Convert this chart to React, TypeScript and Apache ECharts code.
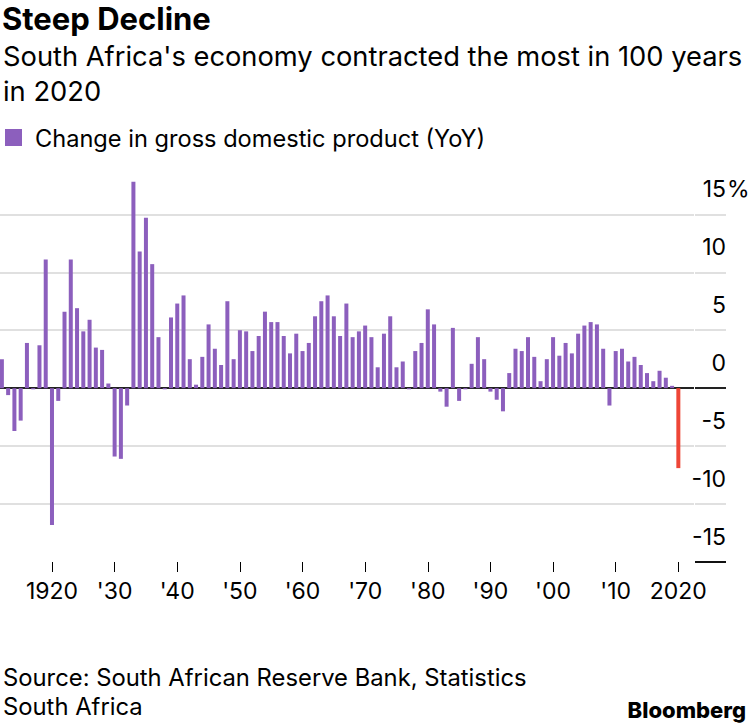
import React, { useEffect, useRef } from "react";
import * as echarts from "echarts";

const years = [
  1912, 1913, 1914, 1915, 1916, 1917, 1918, 1919, 1920, 1921,
  1922, 1923, 1924, 1925, 1926, 1927, 1928, 1929, 1930, 1931,
  1932, 1933, 1934, 1935, 1936, 1937, 1938, 1939, 1940, 1941,
  1942, 1943, 1944, 1945, 1946, 1947, 1948, 1949, 1950, 1951,
  1952, 1953, 1954, 1955, 1956, 1957, 1958, 1959, 1960, 1961,
  1962, 1963, 1964, 1965, 1966, 1967, 1968, 1969, 1970, 1971,
  1972, 1973, 1974, 1975, 1976, 1977, 1978, 1979, 1980, 1981,
  1982, 1983, 1984, 1985, 1986, 1987, 1988, 1989, 1990, 1991,
  1992, 1993, 1994, 1995, 1996, 1997, 1998, 1999, 2000, 2001,
  2002, 2003, 2004, 2005, 2006, 2007, 2008, 2009, 2010, 2011,
  2012, 2013, 2014, 2015, 2016, 2017, 2018, 2019, 2020,
];

const gdpChange = [
  2.5, -0.6, -3.7, -2.8, 3.9, -0.1, 3.7, 11.1, -11.8, -1.1,
  6.6, 11.1, 6.9, 4.9, 5.9, 3.5, 3.3, 0.4, -5.9, -6.1,
  -1.5, 17.8, 11.8, 14.7, 10.7, 4.4, -0.1, 6.1, 7.3, 8.0,
  2.5, 0.3, 2.7, 5.5, 3.4, 2.0, 7.5, 2.5, 5.0, 4.9,
  3.2, 4.5, 6.6, 5.7, 5.7, 4.5, 3.0, 4.7, 3.2, 3.9,
  6.2, 7.5, 8.0, 6.2, 4.5, 7.3, 4.4, 4.9, 5.4, 4.4,
  1.8, 4.7, 6.2, 1.8, 2.3, -0.1, 3.2, 3.9, 6.8, 5.5,
  -0.3, -1.6, 5.2, -1.1, -0.1, 2.1, 4.4, 2.5, -0.3, -1.0,
  -2.0, 1.3, 3.4, 3.2, 4.4, 2.7, 0.6, 2.5, 4.4, 2.8,
  3.9, 3.0, 4.7, 5.4, 5.7, 5.5, 3.4, -1.5, 3.2, 3.4,
  2.3, 2.7, 2.0, 1.3, 0.6, 1.5, 0.9, 0.2, -6.9,
];

const highlightYear = 2020;
const xTickYears = [1920, 1930, 1940, 1950, 1960, 1970, 1980, 1990, 2000, 2010, 2020];
const xTickLabels = ["1920", "'30", "'40", "'50", "'60", "'70", "'80", "'90", "'00", "'10", "2020"];
const yTicks = [-15, -10, -5, 0, 5, 10, 15];

const PURPLE = "#8c5fbd";
const RED = "#ee4637";
const GRID = "#e0e0e0";
const FONT = "Inter, 'Liberation Sans', Arial, sans-serif";

export default function App() {
  const ref = useRef<HTMLDivElement>(null);

  useEffect(() => {
    if (!ref.current) return;
    const chart = echarts.init(ref.current, null, { renderer: "svg" });

    const barData = years.map((y, i) => ({
      value: [y, gdpChange[i]],
      itemStyle: { color: y === highlightYear ? RED : PURPLE },
    }));

    const plotLineColors = yTicks.map((t) =>
      t === yTicks[0] ? "rgba(0,0,0,0)" : t === 0 ? "#222" : GRID
    );
    const sideLineColors = yTicks.map((t) =>
      t === yTicks[0] ? "#111" : t === 0 ? "#222" : GRID
    );

    const option: any = {
      animation: false,
      backgroundColor: "#fff",
      grid: [
        { left: 0, right: 56, top: 214.3, bottom: 162, containLabel: false },
        { left: 695, right: 24, top: 214.3, bottom: 162, containLabel: false },
      ],
      xAxis: [
        {
          gridIndex: 0,
          type: "value",
          min: 1911.7,
          max: 2022.5,
          axisLine: { show: false, onZero: false },
          splitLine: { show: false },
          axisTick: {
            show: true,
            customValues: xTickYears,
            length: 10,
            lineStyle: { color: "#000", width: 1 },
          },
          axisLabel: {
            customValues: xTickYears,
            formatter: (v: number) => xTickLabels[xTickYears.indexOf(v)] ?? "",
            fontSize: 23,
            fontFamily: FONT,
            color: "#000",
            margin: 17,
            lineHeight: 23,
          },
        },
        {
          gridIndex: 1,
          type: "value",
          min: 0,
          max: 1,
          show: false,
        },
      ],
      yAxis: [
        {
          gridIndex: 0,
          type: "value",
          min: -15,
          max: 15,
          interval: 5,
          axisLine: { show: false },
          axisTick: { show: false },
          axisLabel: { show: false },
          splitLine: { show: true, lineStyle: { color: plotLineColors, width: 2 } },
        },
        {
          gridIndex: 1,
          type: "value",
          position: "right",
          min: -15,
          max: 15,
          interval: 5,
          axisLine: { show: false },
          axisTick: { show: false },
          axisLabel: {
            inside: true,
            margin: 0,
            fontSize: 23,
            fontFamily: FONT,
            color: "#000",
            verticalAlign: "bottom",
            lineHeight: 23,
            padding: [0, 0, 14, 0],
            formatter: (v: number) => String(v),
          },
          splitLine: { show: true, lineStyle: { color: sideLineColors, width: 2 } },
        },
      ],
      series: [
        {
          type: "bar",
          name: "Change in gross domestic product (YoY)",
          xAxisIndex: 0,
          yAxisIndex: 0,
          barWidth: 4,
          clip: false,
          data: barData,
        },
      ],
      graphic: [
        {
          type: "text",
          style: {
            text: "Steep Decline",
            x: 2,
            y: 18,
            fontSize: 31,
            fontWeight: 700,
            fontFamily: FONT,
            fill: "#000",
            align: "left",
            verticalAlign: "middle",
          },
        },
        {
          type: "text",
          style: {
            text: "South Africa's economy contracted the most in 100 years",
            x: 3,
            y: 56,
            fontSize: 27.3,
            fontFamily: FONT,
            fill: "#000",
            align: "left",
            verticalAlign: "middle",
          },
        },
        {
          type: "text",
          style: {
            text: "in 2020",
            x: 3,
            y: 91,
            fontSize: 27.3,
            fontFamily: FONT,
            fill: "#000",
            align: "left",
            verticalAlign: "middle",
          },
        },
        {
          type: "rect",
          shape: { x: 5, y: 129, width: 17, height: 17 },
          style: { fill: PURPLE },
        },
        {
          type: "text",
          style: {
            text: "Change in gross domestic product (YoY)",
            x: 35,
            y: 138,
            fontSize: 23.6,
            fontFamily: FONT,
            fill: "#000",
            align: "left",
            verticalAlign: "middle",
          },
        },
        {
          type: "text",
          style: {
            text: "%",
            x: 727,
            y: 188.8,
            fontSize: 23,
            fontFamily: FONT,
            fill: "#000",
            align: "left",
            verticalAlign: "middle",
          },
        },
        {
          type: "text",
          style: {
            text: "Source: South African Reserve Bank, Statistics",
            x: 3,
            y: 677,
            fontSize: 23.8,
            fontFamily: FONT,
            fill: "#000",
            align: "left",
            verticalAlign: "middle",
          },
        },
        {
          type: "text",
          style: {
            text: "South Africa",
            x: 3,
            y: 706,
            fontSize: 23.8,
            fontFamily: FONT,
            fill: "#000",
            align: "left",
            verticalAlign: "middle",
          },
        },
        {
          type: "text",
          style: {
            text: "Bloomberg",
            x: 746,
            y: 710,
            fontSize: 22,
            fontWeight: 800,
            fontFamily: FONT,
            fill: "#000",
            align: "right",
            verticalAlign: "middle",
          },
        },
      ],
    };

    chart.setOption(option);
    return () => chart.dispose();
  }, []);

  return (
    <div
      ref={ref}
      style={{ position: "absolute", left: 0, top: 0, width: 750, height: 724 }}
    />
  );
}
